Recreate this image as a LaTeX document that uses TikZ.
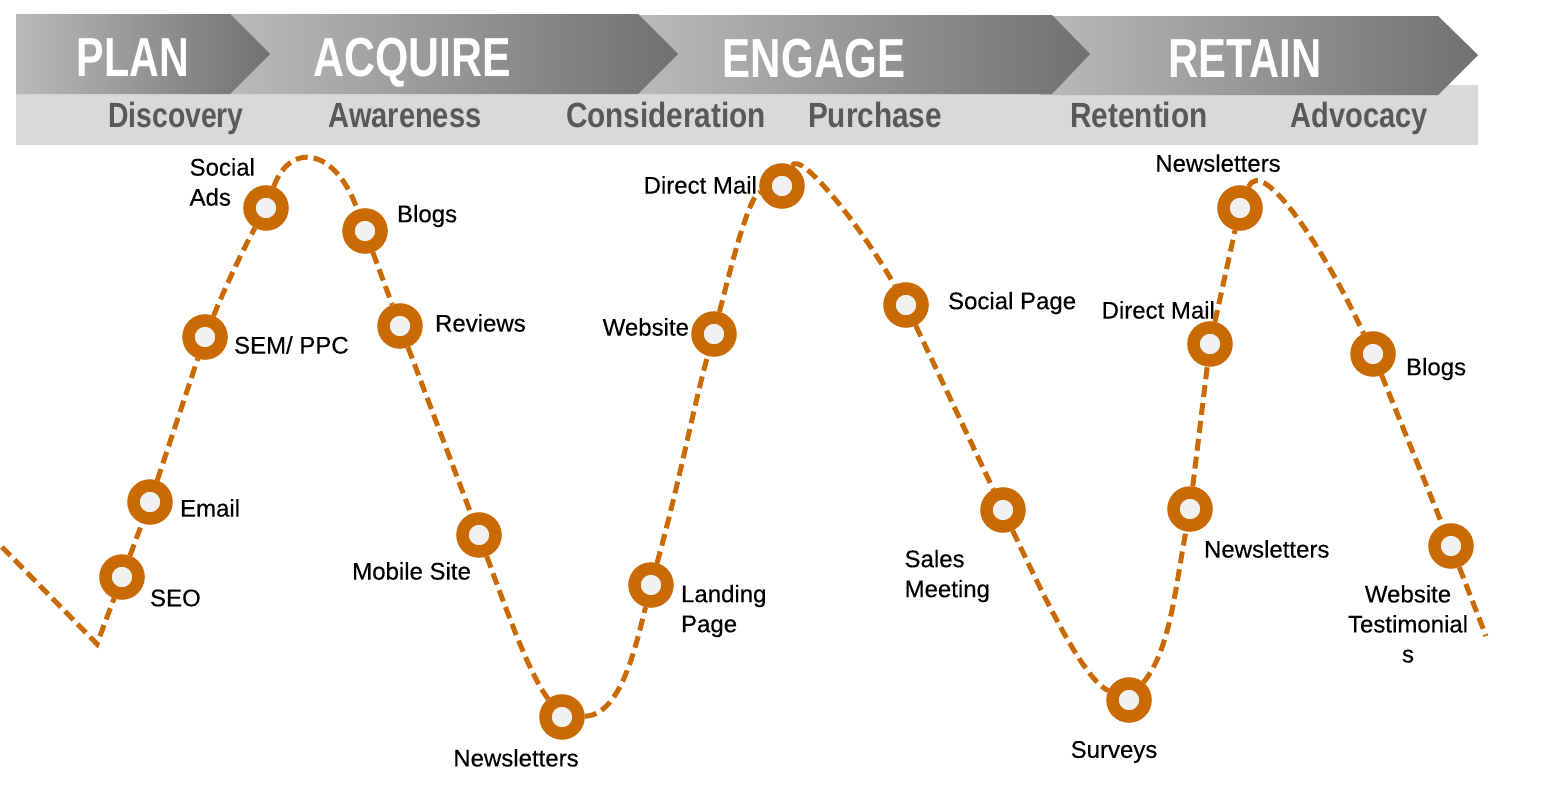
\documentclass[tikz,border=0pt]{standalone}
\usepackage{fontspec}
\setmainfont{Liberation Sans}
\newfontfamily\lblfont[FakeBold=0.3,FakeStretch=1.0]{Liberation Sans}
\usetikzlibrary{positioning}
\definecolor{ringc}{HTML}{C96A05}
\definecolor{holec}{HTML}{F0F0F0}
\definecolor{bandc}{HTML}{D9D9D9}
\definecolor{stagec}{HTML}{595959}
\newcommand{\narrowtext}[2]{\scalebox{#1}[1]{#2}}
\begin{document}
\begin{tikzpicture}[x=1pt,y=-1pt,semithick,
  ring/.style={circle,draw=ringc,fill=holec,line width=12.5pt,minimum size=33pt,inner sep=0pt},
  path/.style={draw=ringc,line width=5pt,dash pattern=on 12pt off 6pt},
  chev/.style={left color=#1,right color=black!56},
  head/.style={anchor=base,text=white,inner sep=0pt,font=\fontsize{55}{60}\selectfont\bfseries},
  stage/.style={anchor=base,text=stagec,inner sep=0pt,font=\fontsize{35}{40}\selectfont\bfseries},
  lbl/.style={inner sep=0pt,align=left,font=\fontsize{24}{30}\selectfont\lblfont}]
\useasboundingbox (0,0) rectangle (1553,787);
% header
\fill[bandc] (16,90) -- (1438,90) -- (1438,85) -- (1478,85) -- (1478,145) -- (16,145) -- cycle;
\shade[chev=black!27] (1040,16) -- (1438,16) -- (1478,55) -- (1438,95) -- (1040,95) -- (1052,55) -- cycle;
\shade[chev=black!27] (638,15) -- (1052,15) -- (1090,54) -- (1052,94) -- (638,94) -- cycle;
\shade[chev=black!27] (230,14) -- (638,14) -- (678,54) -- (638,94) -- (230,94) -- cycle;
\shade[chev=black!27] (16,14) -- (230,14) -- (270,54) -- (230,94) -- (16,94) -- cycle;
\node[head] (plan) at (133,76) {\narrowtext{.75}{PLAN}};
\node[head] (acquire) at (412,76) {\narrowtext{.78}{ACQUIRE}};
\node[head] (engage) at (814,77) {\narrowtext{.765}{ENGAGE}};
\node[head] (retain) at (1245,77) {\narrowtext{.76}{RETAIN}};
\node[stage] (discovery) at (176,127) {\narrowtext{.81}{Discovery}};
\node[stage] (awareness) at (405,127) {\narrowtext{.83}{Awareness}};
\node[stage] (consideration) at (666,127) {\narrowtext{.85}{Consideration}};
\node[stage] (purchase) at (875,127) {\narrowtext{.85}{Purchase}};
\node[stage] (retention) at (1139,127) {\narrowtext{.85}{Retention}};
\node[stage] (advocacy) at (1359,127) {\narrowtext{.83}{Advocacy}};
% rings
\node[ring] (seo) at (122,577) {};
\node[ring] (email) at (150,502) {};
\node[ring] (sem) at (205,337) {};
\node[ring] (social) at (266,208) {};
\node[ring] (blogsa) at (365,231) {};
\node[ring] (reviews) at (400,326) {};
\node[ring] (mobile) at (479,535) {};
\node[ring] (newsa) at (562,717) {};
\node[ring] (landing) at (651,585) {};
\node[ring] (website) at (714,334) {};
\node[ring] (maila) at (782,186) {};
\node[ring] (socialp) at (906,305) {};
\node[ring] (sales) at (1003,510) {};
\node[ring] (surveys) at (1129,700) {};
\node[ring] (newsb) at (1190,509) {};
\node[ring] (mailb) at (1210,344) {};
\node[ring] (newsc) at (1240,208) {};
\node[ring] (blogsb) at (1373,354) {};
\node[ring] (testi) at (1451,546) {};
\coordinate (start) at (2,547);
\coordinate (dip) at (97,644);
\coordinate (finish) at (1486,636);
% labels
\node[lbl,right=5pt of seo,yshift=-21pt] (seol) {SEO};
\node[lbl,right=7pt of email,yshift=-6pt] (emaill) {Email};
\node[lbl,right=6pt of sem,yshift=-8pt] (seml) {SEM/ PPC};
\node[lbl,left=-12pt of social,yshift=26pt] (sociall) {Social\\Ads};
\node[lbl,right=9pt of blogsa,yshift=15pt] (blogsal) {Blogs};
\node[lbl,right=12pt of reviews,yshift=3pt] (reviewsl) {Reviews};
\node[lbl,left=-15pt of mobile,yshift=-36pt] (mobilel) {Mobile Site};
\node[lbl,below=9pt of newsa,xshift=-46pt] (newsal) {Newsletters};
\node[lbl,right=7pt of landing,yshift=-26pt] (landingl) {Landing\\Page};
\node[lbl,left=2pt of website,yshift=7pt] (websitel) {Website};
\node[lbl,left=2pt of maila,yshift=1pt] (mailal) {Direct Mail};
\node[lbl,right=19pt of socialp,yshift=2pt] (socialpl) {Social Page};
\node[lbl,left=-10pt of sales,yshift=-66pt] (salesl) {Sales\\Meeting};
\node[lbl,below=18pt of surveys,xshift=-15pt] (surveysl) {Surveys};
\node[lbl,right=-9pt of newsb,yshift=-40pt] (newsbl) {Newsletters};
\node[lbl,left=-28pt of mailb,yshift=34pt] (mailbl) {Direct Mail};
\node[lbl,above=13pt of newsc,xshift=-22pt] (newscl) {Newsletters};
\node[lbl,right=10pt of blogsb,yshift=-15pt] (blogsbl) {Blogs};
\node[lbl,align=center,below=16pt of testi,xshift=-43pt] (testil) {Website\\Testimonial\\s};
% dashed line
\draw[path] (start) -- (dip) -- (seo);
\draw[path] (seo) -- (email);
\draw[path] (email) -- (sem);
\draw[path] (sem) .. controls (222,295) and (240,255) .. (social);
\draw[path] (social) .. controls (290,142) and (335,147) .. (blogsa);
\draw[path] (blogsa) -- (reviews);
\draw[path] (reviews) -- (mobile);
\draw[path] (mobile) .. controls (510,620) and (530,675) .. (newsa);
\draw[path] (newsa) .. controls (620,715) and (635,650) .. (landing);
\draw[path] (landing) .. controls (680,480) and (695,400) .. (website);
\draw[path] (website) .. controls (735,250) and (750,195) .. (maila);
\draw[path] (maila) .. controls (800,150) and (860,225) .. (socialp);
\draw[path] (socialp) -- (sales);
\draw[path] (sales) .. controls (1050,610) and (1085,680) .. (surveys);
\draw[path] (surveys) .. controls (1170,650) and (1175,590) .. (newsb);
\draw[path] (newsb) -- (mailb);
\draw[path] (mailb) -- (newsc);
\draw[path] (newsc) .. controls (1262,155) and (1325,250) .. (blogsb);
\draw[path] (blogsb) -- (testi);
\draw[path] (testi) -- (finish);
\end{tikzpicture}
\end{document}
